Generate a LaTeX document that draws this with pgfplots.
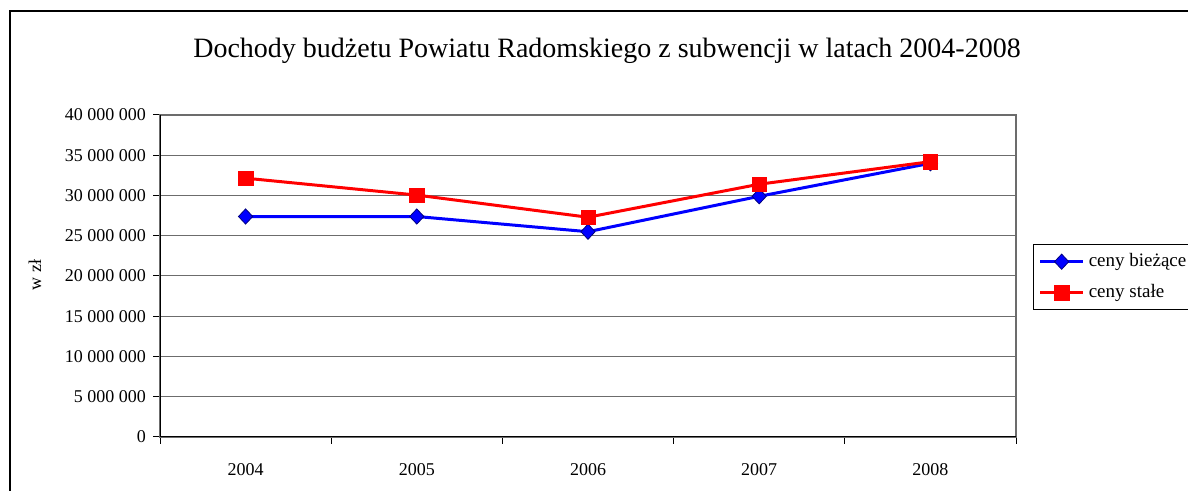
\documentclass[border=0pt]{standalone}
\usepackage{pgfplots}
\pgfplotsset{compat=1.18}
\usepackage{fontspec}
\setmainfont{Liberation Serif}
\definecolor{navy}{RGB}{0,0,128}
\begin{document}
\begin{tikzpicture}
\useasboundingbox (0,0) rectangle (594pt,245.5pt);
\fill[white] (0,0) rectangle (594pt,245.5pt);
\draw[line width=0.8pt] (5pt,-2pt) -- (5pt,240pt) -- (600pt,240pt);
\node[font=\fontsize{14}{17}\selectfont] at (303.5pt,220pt) {Dochody budżetu Powiatu Radomskiego z subwencji w latach 2004-2008};
\node[rotate=90, font=\fontsize{9}{10.8}\selectfont] at (17.5pt,108pt) {w zł};
\begin{axis}[
  at={(80pt,27pt)}, anchor=south west,
  scale only axis, width=428pt, height=161pt,
  xmin=-0.5, xmax=4.5, ymin=0, ymax=40000000,
  scaled y ticks=false,
  xtick={-0.5,0.5,1.5,2.5,3.5,4.5},
  xticklabels={2004,2005,2006,2007,2008},
  x tick label as interval,
  ytick={0,5000000,10000000,15000000,20000000,25000000,30000000,35000000,40000000},
  yticklabels={0,5 000 000,10 000 000,15 000 000,20 000 000,25 000 000,30 000 000,35 000 000,40 000 000},
  tick pos=left, tick align=outside, major tick length=3.5pt,
  ymajorgrids, grid style={gray!85!black, line width=0.5pt},
  axis line style={gray!85!black, line width=0.6pt},
  tick style={black, line width=0.5pt},
  yticklabel style={font=\fontsize{9}{10.8}\selectfont},
  xticklabel style={font=\fontsize{9}{10.8}\selectfont, yshift=-6pt},
  legend style={at={(rel axis cs:1.0199,0.599)}, anchor=north west, draw=black, line width=0.5pt,
    font=\fontsize{9.5}{11.5}\selectfont, row sep=3.5pt, inner sep=2.5pt},
  legend cell align=left,
  legend image code/.code={\draw[mark repeat=2,mark phase=2] plot coordinates {(0cm,0cm)(0.38cm,0cm)(0.76cm,0cm)};},
]
\addplot[blue, line width=1.5pt, mark=diamond*, mark size=3.8pt, mark options={xscale=1.25, fill=blue, draw=navy, line width=0.4pt}]
  coordinates {(0,27390000) (1,27390000) (2,25500000) (3,29900000) (4,34000000)};
\addlegendentry{ceny bieżące}
\addplot[red, line width=1.5pt, mark=square*, mark size=3.6pt, mark options={fill=red, draw=red, line width=0.2pt}]
  coordinates {(0,32150000) (1,30050000) (2,27300000) (3,31400000) (4,34200000)};
\addlegendentry{ceny stałe}
\draw[black, line width=0.7pt] (rel axis cs:0,1) -- (rel axis cs:0,0) -- (rel axis cs:1,0);
\end{axis}
\end{tikzpicture}
\end{document}
